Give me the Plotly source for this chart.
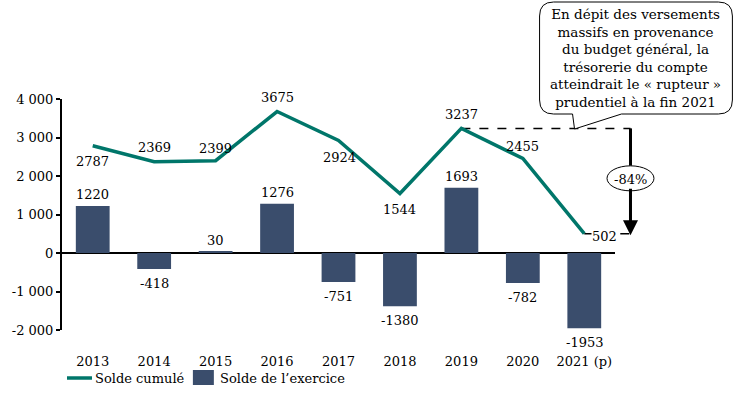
import plotly.graph_objects as go

years = ["2013", "2014", "2015", "2016", "2017", "2018", "2019", "2020", "2021 (p)"]
solde_cumule = [2787, 2369, 2399, 3675, 2924, 1544, 3237, 2455, 502]
solde_exercice = [1220, -418, 30, 1276, -751, -1380, 1693, -782, -1953]
ytick_vals = [-2000, -1000, 0, 1000, 2000, 3000, 4000]
ytick_text = ["-2 000", "-1 000", "0", "1 000", "2 000", "3 000", "4 000"]
series_names = ["Solde cumulé", "Solde de l\u2019exercice"]
variation_label = "-84%"
callout_lines = [
    "En dépit des versements",
    "massifs en provenance",
    "du budget général, la",
    "trésorerie du compte",
    "atteindrait le « rupteur »",
    "prudentiel à la fin 2021",
]

FONT = "DejaVu Serif"
FS = 13
LINE_COLOR = "#00766A"
BAR_COLOR = "#3A4D6C"

W, H = 736, 396
ML, MR, MT, MB = 62, 120.5, 99, 66
PW = W - ML - MR
PH = H - MT - MB
Y0, Y1 = -2000, 4000
NX = len(years)


def px(x):
    return (x - ML) / PW


def py(y):
    return (H - MB - y) / PH


def xd(i):  # category index -> paper x
    return (i + 0.5) / NX


def yd(v):  # data value -> paper y
    return (v - Y0) / (Y1 - Y0)


xs = list(range(NX))
tf = dict(family=FONT, size=FS, color="black")

fig = go.Figure()
fig.add_trace(go.Scatter(
    x=xs, y=solde_cumule, mode="lines", name=series_names[0],
    line=dict(color=LINE_COLOR, width=3.5), showlegend=False, hoverinfo="skip",
))
fig.add_trace(go.Bar(
    x=xs, y=solde_exercice, name=series_names[1],
    marker=dict(color=BAR_COLOR, line=dict(width=0)), width=0.55, showlegend=False,
    hoverinfo="skip",
))

annotations = []
# line labels: (dx, dy) offsets in pixels (screen, up positive)
line_offsets = [(0, -16), (0, 14), (0, 12), (0, 14), (1, -17), (0, -16), (0, 14), (0, 12), (20, -3)]
for i, (v, (dx, dy)) in enumerate(zip(solde_cumule, line_offsets)):
    annotations.append(dict(
        x=xs[i], y=v, text=str(v), showarrow=False, xshift=dx, yshift=dy,
        font=tf, bgcolor="white" if i == NX - 1 else None, borderpad=0,
    ))
# bar labels
for i, v in enumerate(solde_exercice):
    if v >= 0:
        annotations.append(dict(x=xs[i], y=v, text=str(v), showarrow=False,
                                yanchor="bottom", yshift=2, font=tf))
    else:
        annotations.append(dict(x=xs[i], y=v, text=str(v), showarrow=False,
                                yanchor="top", yshift=-5, font=tf))

# variation arrow (paper coordinates, outside the plot area)
i_max = 6
i_last = NX - 1
xa = px(631)
ell_cy = yd((solde_cumule[i_max] + solde_cumule[i_last]) / 2 + 70)
ell_hw = 23.5 / PW
ell_hh = 12.5 / PH
annotations.append(dict(
    x=xa, y=yd(solde_cumule[i_last]) - 1.5 / PH,
    xref="paper", yref="paper",
    ax=0, ay=-(ell_cy - yd(solde_cumule[i_last])) * PH,
    text=variation_label, showarrow=True, arrowhead=2, arrowsize=1,
    arrowwidth=3, arrowcolor="black", font=tf,
    standoff=0, startstandoff=0,
))

# callout text
annotations.append(dict(
    xref="paper", yref="paper", x=px(636.5), y=py(58),
    xanchor="center", yanchor="middle",
    text="<br>".join(callout_lines), showarrow=False,
    font=dict(family=FONT, size=13.5, color="black"), align="center",
))

# manual legend texts
annotations.append(dict(xref="paper", yref="paper", x=px(93), y=py(378),
                        xanchor="left", yanchor="middle", showarrow=False,
                        text=series_names[0], font=tf))
annotations.append(dict(xref="paper", yref="paper", x=px(218), y=py(378),
                        xanchor="left", yanchor="middle", showarrow=False,
                        text=series_names[1], font=tf))

shapes = []
# dashed reference lines
shapes.append(dict(type="line", xref="paper", yref="paper",
                   x0=xd(i_max), x1=xa, y0=yd(solde_cumule[i_max]), y1=yd(solde_cumule[i_max]),
                   line=dict(color="black", width=1.5, dash="dash"), layer="below"))
shapes.append(dict(type="line", xref="paper", yref="paper",
                   x0=xd(i_last), x1=xa, y0=yd(solde_cumule[i_last]), y1=yd(solde_cumule[i_last]),
                   line=dict(color="black", width=1.5, dash="dash"), layer="below"))
# arrow shaft upper part
shapes.append(dict(type="line", xref="paper", yref="paper",
                   x0=xa, x1=xa, y0=yd(solde_cumule[i_max]), y1=ell_cy + ell_hh,
                   line=dict(color="black", width=3)))
# ellipse
shapes.append(dict(type="circle", xref="paper", yref="paper",
                   x0=xa - ell_hw, x1=xa + ell_hw,
                   y0=ell_cy - ell_hh, y1=ell_cy + ell_hh,
                   line=dict(color="black", width=1), fillcolor="white"))

# manual legend swatches
shapes.append(dict(type="line", xref="paper", yref="paper",
                   x0=px(67), x1=px(92), y0=py(378), y1=py(378),
                   line=dict(color=LINE_COLOR, width=3.5)))
shapes.append(dict(type="rect", xref="paper", yref="paper",
                   x0=px(193), x1=px(214), y0=py(370), y1=py(385),
                   line=dict(width=0), fillcolor=BAR_COLOR))

# callout box with tail (pixel coordinates converted to paper)
bx0, bx1, by0, by1, r = 540, 733, 2, 114, 14
tx_l, tx_r, tip_x, tip_y = 573, 622, 575, 129
pts = [
    ("M", bx0 + r, by0),
    ("L", bx1 - r, by0),
    ("Q", bx1, by0, bx1, by0 + r),
    ("L", bx1, by1 - r),
    ("Q", bx1, by1, bx1 - r, by1),
    ("L", tx_r, by1),
    ("L", tip_x, tip_y),
    ("L", tx_l, by1),
    ("L", bx0 + r, by1),
    ("Q", bx0, by1, bx0, by1 - r),
    ("L", bx0, by0 + r),
    ("Q", bx0, by0, bx0 + r, by0),
]
path = ""
for p in pts:
    cmd = p[0]
    coords = p[1:]
    parts = []
    for k in range(0, len(coords), 2):
        parts.append(f"{px(coords[k]):.5f},{py(coords[k + 1]):.5f}")
    path += cmd + " ".join(parts) + " "
path += "Z"
shapes.append(dict(type="path", xref="paper", yref="paper", path=path,
                   line=dict(color="black", width=1), fillcolor="white"))

fig.update_layout(
    width=W, height=H,
    margin=dict(l=ML, r=MR, t=MT, b=MB, pad=0, autoexpand=False),
    paper_bgcolor="white", plot_bgcolor="white",
    font=tf,
    showlegend=False,
    hovermode=False,
    annotations=annotations,
    shapes=shapes,
    xaxis=dict(
        range=[-0.5, NX - 0.5], tickvals=xs, ticktext=years,
        showline=False, showgrid=False, zeroline=False, ticks="",
        ticklabelstandoff=22, tickfont=tf,
        fixedrange=True, automargin=False,
    ),
    yaxis=dict(
        range=[Y0, Y1], tickvals=ytick_vals, ticktext=ytick_text,
        showline=True, linecolor="black", linewidth=2,
        ticks="outside", ticklen=4, tickwidth=2, tickcolor="black",
        showgrid=False, zeroline=True, zerolinecolor="black", zerolinewidth=2,
        tickfont=tf, fixedrange=True, automargin=False,
    ),
)

fig.write_html("out.html", config={"displayModeBar": False},
               post_script="document.body.style.margin='0';")
